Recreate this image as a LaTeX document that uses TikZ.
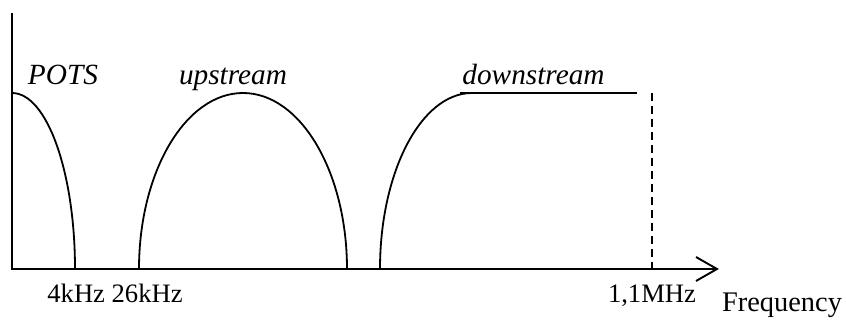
\documentclass[tikz,border=0pt]{standalone}
\usepackage{fontspec}
\setmainfont{Liberation Serif}
\begin{document}
\begin{tikzpicture}[x=1pt,y=-1pt,
  axis/.style={line width=1.9pt},
  curve/.style={line width=1.8pt},
  lbl/.style={font=\fontsize{29.3}{33}\selectfont\itshape, inner sep=0pt, anchor=base},
  tick/.style={font=\fontsize{26.6}{30}\selectfont, inner sep=0pt, anchor=base}]
\useasboundingbox (0,0) rectangle (846,320);
\coordinate (O) at (12,269);
\coordinate (ytop) at (12,13);
\coordinate (xend) at (717,269);
\draw[axis] (ytop) -- (O) -- (xend);
\draw[axis] (696,257) -- (xend) -- (696,281);
% POTS
\draw[curve] (12,93) arc[start angle=270, end angle=360, x radius=63, y radius=176];
% upstream
\draw[curve] (139,269) arc[start angle=180, end angle=360, x radius=104, y radius=176];
% downstream
\draw[curve] (380,269) arc[start angle=180, end angle=270, x radius=92, y radius=176];
\coordinate (dl) at (460,93);
\coordinate (dr) at (637,93);
\draw[curve] (dl) -- (dr);
\coordinate (dt) at (652,93);
\coordinate (db) at (652,269);
\draw[curve, dash pattern=on 8pt off 5pt] (dt) -- (db);
\node[lbl] (pots) at (63,85) {POTS};
\node[lbl] (up) at (233,85) {upstream};
\node[lbl] (down) at (533.5,85) {downstream};
\node[tick] (k4) at (115,303) {4kHz 26kHz};
\node[tick] (m1) at (652,303) {1,1MHz};
\node[tick, font=\fontsize{28.4}{32}\selectfont] (fr) at (782,312) {Frequency};
\end{tikzpicture}
\end{document}
